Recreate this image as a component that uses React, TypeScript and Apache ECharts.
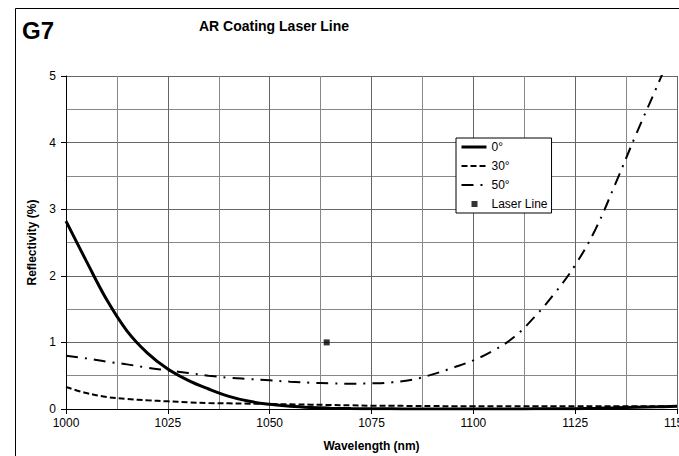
import React, { useEffect, useRef } from "react";
import * as echarts from "echarts";

const wavelength = [1000, 1005, 1010, 1015, 1020, 1025, 1030, 1035, 1040, 1045, 1050, 1055, 1060, 1065, 1070, 1075, 1080, 1085, 1090, 1095, 1100, 1105, 1110, 1115, 1120, 1125, 1130, 1135, 1140, 1145, 1150];
const refl0 = [2.82, 2.22, 1.64, 1.17, 0.84, 0.6, 0.43, 0.3, 0.19, 0.115, 0.07, 0.04, 0.022, 0.012, 0.006, 0.003, 0.002, 0.001, 0.001, 0.001, 0.001, 0.001, 0.001, 0.002, 0.003, 0.005, 0.01, 0.017, 0.025, 0.032, 0.04];
const refl30 = [0.33, 0.24, 0.18, 0.15, 0.13, 0.115, 0.1, 0.09, 0.085, 0.08, 0.075, 0.07, 0.065, 0.06, 0.055, 0.05, 0.05, 0.045, 0.045, 0.04, 0.04, 0.04, 0.04, 0.04, 0.04, 0.04, 0.04, 0.04, 0.04, 0.04, 0.04];
const refl50 = [0.8, 0.76, 0.71, 0.67, 0.62, 0.58, 0.54, 0.5, 0.47, 0.45, 0.43, 0.41, 0.395, 0.385, 0.38, 0.385, 0.4, 0.44, 0.52, 0.62, 0.73, 0.88, 1.08, 1.38, 1.74, 2.16, 2.7, 3.4, 4.13, 4.83, 5.55];
const laserX = [1064];
const laserY = [1];
const seriesNames = ["0°", "30°", "50°", "Laser Line"];

const pairs = (xs: number[], ys: number[]) => xs.map((x, i) => [x, ys[i]]);

export default function App() {
  const ref = useRef<HTMLDivElement>(null);
  useEffect(() => {
    if (!ref.current) return;
    const chart = echarts.init(ref.current, null, { renderer: "svg" });
    const font = "Liberation Sans, Arial, sans-serif";
    const hiddenSymbol = { opacity: 0 };
    chart.setOption({
      animation: false,
      textStyle: { fontFamily: font },
      graphic: [
        { type: "rect", shape: { x: 15.5, y: 8.5, width: 800, height: 600 }, style: { fill: "none", stroke: "#000", lineWidth: 1 }, silent: true },
        { type: "text", x: 22, y: 30, style: { text: "G7", font: `bold 24px ${font}`, fill: "#000", textVerticalAlign: "middle" } },
        { type: "text", x: 274, y: 26, style: { text: "AR Coating Laser Line", font: `bold 14px ${font}`, fill: "#000", textAlign: "center", textVerticalAlign: "middle" } },
      ],
      grid: { left: 66, right: 2, top: 76, bottom: 47, containLabel: false, outerBoundsMode: "none" },
      legend: {
        orient: "vertical",
        left: 456,
        top: 138,
        backgroundColor: "#fff",
        borderColor: "#000",
        borderWidth: 1,
        padding: [3, 4, 3, 4],
        itemWidth: 25,
        itemHeight: 12,
        itemGap: 7,
        textStyle: { fontSize: 12, color: "#000", fontFamily: font },
        data: [
          { name: seriesNames[0], lineStyle: { width: 3 }, itemStyle: hiddenSymbol },
          { name: seriesNames[1], lineStyle: { width: 2 }, itemStyle: hiddenSymbol },
          { name: seriesNames[2], lineStyle: { width: 2 }, itemStyle: hiddenSymbol },
          { name: seriesNames[3], icon: "path://M0,0 M25,12 M10,3 L16,3 L16,9 L10,9 Z" },
        ],
      },
      xAxis: {
        type: "value",
        min: 1000,
        max: 1150,
        interval: 25,
        name: "Wavelength (nm)",
        nameLocation: "middle",
        nameGap: 31,
        nameTextStyle: { fontWeight: "bold", fontSize: 12, color: "#000", fontFamily: font },
        axisLine: { show: true, lineStyle: { color: "#000", width: 1 } },
        axisTick: { show: true, length: 5, lineStyle: { color: "#000" } },
        axisLabel: { fontSize: 12, color: "#000", margin: 8, fontFamily: font, formatter: (v: number) => String(v) },
        splitLine: { show: true, lineStyle: { color: "#666", width: 1 } },
        minorTick: { show: false, splitNumber: 2 },
        minorSplitLine: { show: true, lineStyle: { color: "#888", width: 1 } },
      },
      yAxis: {
        type: "value",
        min: 0,
        max: 5,
        interval: 1,
        name: "Reflectivity (%)",
        nameLocation: "middle",
        nameGap: 25,
        nameTextStyle: { fontWeight: "bold", fontSize: 12, color: "#000", fontFamily: font },
        axisLine: { show: true, lineStyle: { color: "#000", width: 1 } },
        axisTick: { show: true, length: 5, lineStyle: { color: "#000" } },
        axisLabel: { fontSize: 12, color: "#000", margin: 10, fontFamily: font },
        splitLine: { show: true, lineStyle: { color: "#666", width: 1 } },
        minorTick: { show: false, splitNumber: 2 },
        minorSplitLine: { show: true, lineStyle: { color: "#888", width: 1 } },
      },
      series: [
        {
          name: seriesNames[0],
          type: "line",
          data: pairs(wavelength, refl0),
          smooth: 0.4,
          showSymbol: false,
          symbol: "none",
          clip: true,
          lineStyle: { color: "#000", width: 3, type: "solid" },
          itemStyle: { color: "#000" },
          z: 4,
        },
        {
          name: seriesNames[1],
          type: "line",
          data: pairs(wavelength, refl30),
          smooth: 0.4,
          showSymbol: false,
          symbol: "none",
          clip: true,
          lineStyle: { color: "#000", width: 2, type: [6, 3] },
          itemStyle: { color: "#000" },
          z: 3,
        },
        {
          name: seriesNames[2],
          type: "line",
          data: pairs(wavelength, refl50),
          smooth: 0.4,
          showSymbol: false,
          symbol: "none",
          clip: true,
          lineStyle: { color: "#000", width: 2, type: [12, 7, 2, 7] },
          itemStyle: { color: "#000" },
          z: 3,
        },
        {
          name: seriesNames[3],
          type: "scatter",
          data: pairs(laserX, laserY),
          symbol: "rect",
          symbolSize: 6,
          itemStyle: { color: "#000" },
          z: 5,
        },
      ],
    });
    return () => chart.dispose();
  }, []);
  return <div ref={ref} style={{ position: "fixed", left: 0, top: 0, width: 679, height: 456, background: "#fff" }} />;
}
